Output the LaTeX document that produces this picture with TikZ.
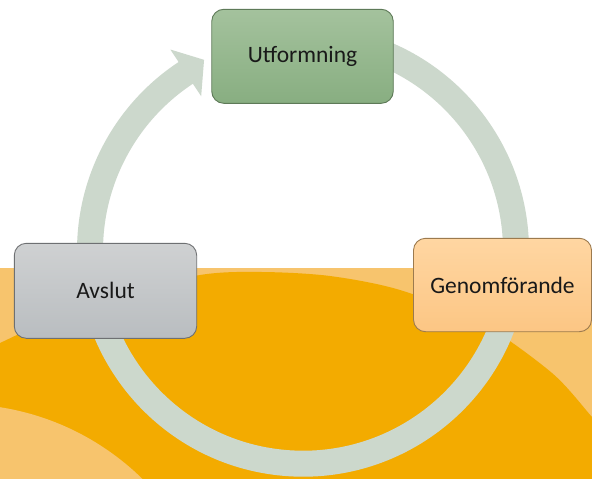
\documentclass[tikz,border=0pt]{standalone}
\usepackage{fontspec}
\setmainfont{Carlito}
\definecolor{bgLight}{HTML}{F7C46D}
\definecolor{bgDark}{HTML}{F3AB00}
\definecolor{ringCol}{HTML}{CCD8CC}
\definecolor{gTop}{HTML}{A4C29D}
\definecolor{gBot}{HTML}{88AE81}
\definecolor{gLine}{HTML}{5E7A58}
\definecolor{aTop}{HTML}{CFD1D2}
\definecolor{aBot}{HTML}{B9BDC0}
\definecolor{aLine}{HTML}{6E7072}
\definecolor{oTop}{HTML}{FFD6A2}
\definecolor{oBot}{HTML}{FCC684}
\definecolor{oLine}{HTML}{9C7A4E}
\tikzset{
  stagebox/.style={rectangle, rounded corners=12pt, line width=0.9pt,
    shading=axis, shading angle=0, inner sep=0pt, outer sep=0pt,
    font=\fontsize{23.5}{28}\selectfont, text=black!90},
  ringline/.style={draw=ringCol, line width=26pt},
}
\begin{document}
\begin{tikzpicture}[x=1pt,y=-1pt]
\useasboundingbox (0,0) rectangle (592,479);
\fill[white] (0,0) rectangle (592,479);
\begin{scope}
\clip (0,268) rectangle (592,479);
\fill[bgLight] (0,268) rectangle (592,479);
\fill[bgDark] plot[smooth] coordinates {(-20,353) (0,343) (100,298) (200,275) (262,272) (330,276) (400,290) (480,322) (552,373) (592,417) (612,439)} -- (612,479) -- (-20,479) -- cycle;
\fill[bgLight] (-41,666) circle[radius=262];
\end{scope}
% cycle arrow
\coordinate (C) at (303,250.7);
\begin{scope}[shift={(C)}]
\draw[ringline] (-85:213) arc[start angle=-85, end angle=237, radius=213];
\fill[ringCol] (236.6:241) -- (242.6:215) -- (236.6:185) -- cycle;
\end{scope}
% stages
\node[stagebox, draw=gLine, top color=gTop, bottom color=gBot,
  minimum width=181.5pt, minimum height=94pt] (utf) at (302.5,56.3) {Utformning};
\node[stagebox, draw=oLine, top color=oTop, bottom color=oBot,
  minimum width=178pt, minimum height=93.4pt] (gen) at (502.5,285) {Genomförande};
\node[stagebox, draw=aLine, top color=aTop, bottom color=aBot,
  minimum width=182.4pt, minimum height=95pt] (avs) at (105.5,290.8) {Avslut};
\end{tikzpicture}
\end{document}
